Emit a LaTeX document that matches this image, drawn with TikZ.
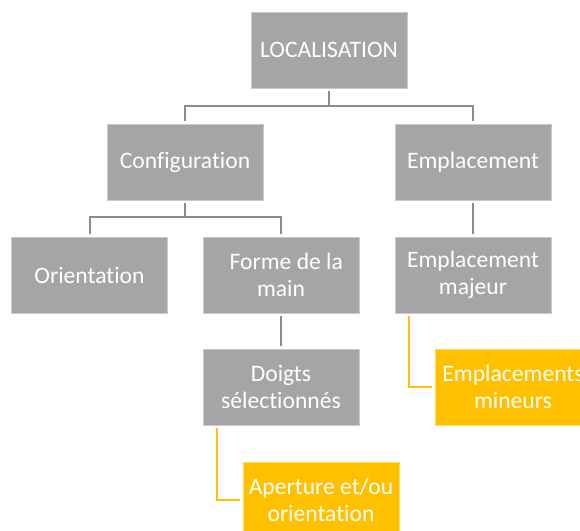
\documentclass[tikz,border=0pt]{standalone}
\usepackage{fontspec}
\setmainfont{Carlito}[Ligatures=NoCommon]
\usetikzlibrary{calc}
\definecolor{boxgray}{HTML}{A5A5A5}
\definecolor{linegray}{HTML}{8C8C8C}
\definecolor{accent}{HTML}{FFC000}
\definecolor{edgegray}{HTML}{C9C9C9}
\definecolor{edgeyellow}{HTML}{FFD966}
\begin{document}
\begin{tikzpicture}[x=1pt,y=-1pt,
  box/.style={rectangle, minimum width=156pt, minimum height=76pt, inner sep=0pt,
    fill=boxgray, draw=edgegray, line width=0.6pt, text=white, align=center,
    font=\fontsize{23.6}{26.7}\selectfont},
  ybox/.style={box, fill=accent, draw=edgeyellow},
  conn/.style={draw=linegray, line width=2pt, shorten <=3pt, shorten >=3pt},
  yconn/.style={draw=accent, line width=2pt, shorten <=3pt, shorten >=3pt}]
\useasboundingbox (0,0) rectangle (580,530);
\clip (0,0) rectangle (580,530);
\node[box] (loc) at (329,50) {LOCALISATION};
\node[box] (conf) at (185,162) {Configuration};
\node[box] (emp) at (473,162) {Emplacement};
\node[box] (ori) at (89.5,275) {Orientation};
\node[box] (forme) at (281,275) {\hspace*{10.6pt}Forme de la\\main};
\node[box] (maj) at (473,275) {Emplacement\\majeur};
\node[box] (doigts) at (281,387) {Doigts\\sélectionnés};
\node[ybox] (min) at (513,387) {Emplacements\\mineurs};
\node[ybox] (ap) at (321,500) {Aperture et/ou\\orientation};
\draw[conn] (loc.south) -- ++(0,18) -| (conf.north);
\draw[conn] (loc.south) -- ++(0,18) -| (emp.north);
\draw[conn] (conf.south) -- ++(0,17) -| (ori.north);
\draw[conn] (conf.south) -- ++(0,17) -| (forme.north);
\draw[conn] (emp.south) -- (maj.north);
\draw[conn] (forme.south) -- (doigts.north);
\draw[yconn] ($(maj.south west)+(14,0)$) |- (min.west);
\draw[yconn] ($(doigts.south west)+(14,0)$) |- (ap.west);
\end{tikzpicture}
\end{document}
